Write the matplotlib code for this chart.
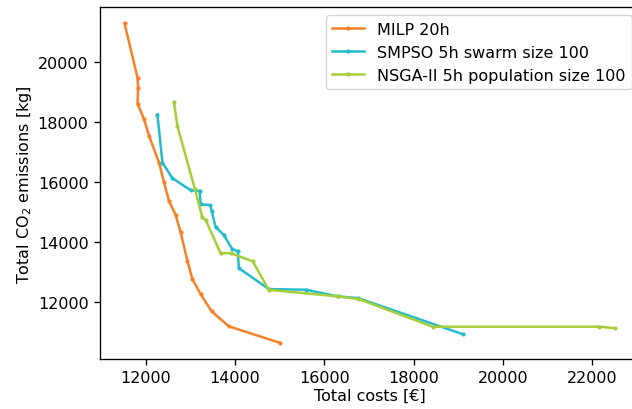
import matplotlib
matplotlib.use("Agg")
import matplotlib.pyplot as plt

# ------------------------------------------------------------
# Pareto fronts
# ------------------------------------------------------------
milp_cost = [11524, 11815, 11828, 11815, 11962, 12074, 12297, 12409, 12521,
             12670, 12782, 12932, 13044, 13229, 13475, 13861, 15017]
milp_co2 = [21300, 19490, 19133, 18623, 18100, 17543, 16657, 15990, 15377,
            14900, 14323, 13377, 12767, 12267, 11690, 11190, 10633]

smpso_cost = [12261, 12373, 12597, 13006, 13207, 13229, 13447, 13475, 13564,
              13750, 13937, 14063, 14085, 14755, 15591, 16297, 16760, 19100]
smpso_co2 = [18257, 16657, 16133, 15733, 15710, 15267, 15233, 15043, 14510,
             14233, 13767, 13690, 13133, 12433, 12410, 12190, 12130, 10930]

nsga_cost = [12632, 12708, 13102, 13267, 13341, 13676, 13899, 14398, 14755,
             16290, 16773, 18429, 22168, 22525]
nsga_co2 = [18677, 17877, 15767, 14823, 14743, 13633, 13633, 13357, 12410,
            12190, 12100, 11177, 11177, 11123]

labels = ["MILP 20h", "SMPSO 5h swarm size 100", "NSGA-II 5h population size 100"]
colors = ["#f58025", "#23bccd", "#a6ce39"]

# the reference looks like a default figure scaled up a little
plt.rcParams.update({
    "font.size": 11.5,
    "axes.linewidth": 0.96,
    "xtick.major.size": 4.2,
    "ytick.major.size": 4.2,
    "xtick.major.width": 0.96,
    "ytick.major.width": 0.96,
    "xtick.major.pad": 4.0,
    "ytick.major.pad": 4.0,
})

# ------------------------------------------------------------
# Plot
# ------------------------------------------------------------
fig = plt.figure(figsize=(6.32, 4.10), dpi=100)
ax = fig.add_axes([0.1582, 0.122, 0.8544, 0.8575])

series = [(milp_cost, milp_co2), (smpso_cost, smpso_co2), (nsga_cost, nsga_co2)]
for (x, y), lab, c in zip(series, labels, colors):
    ax.plot(x, y, marker=".", markersize=4, linewidth=1.8, color=c, label=lab)

ax.set_xlabel("Total costs [€]", labelpad=2)
ax.set_ylabel("Total CO$_2$ emissions [kg]", labelpad=3)
ax.set_xticks([12000, 14000, 16000, 18000, 20000, 22000])
ax.set_yticks([12000, 14000, 16000, 18000, 20000])
ax.legend(loc="upper right")

fig.savefig("out.png", dpi=100)
